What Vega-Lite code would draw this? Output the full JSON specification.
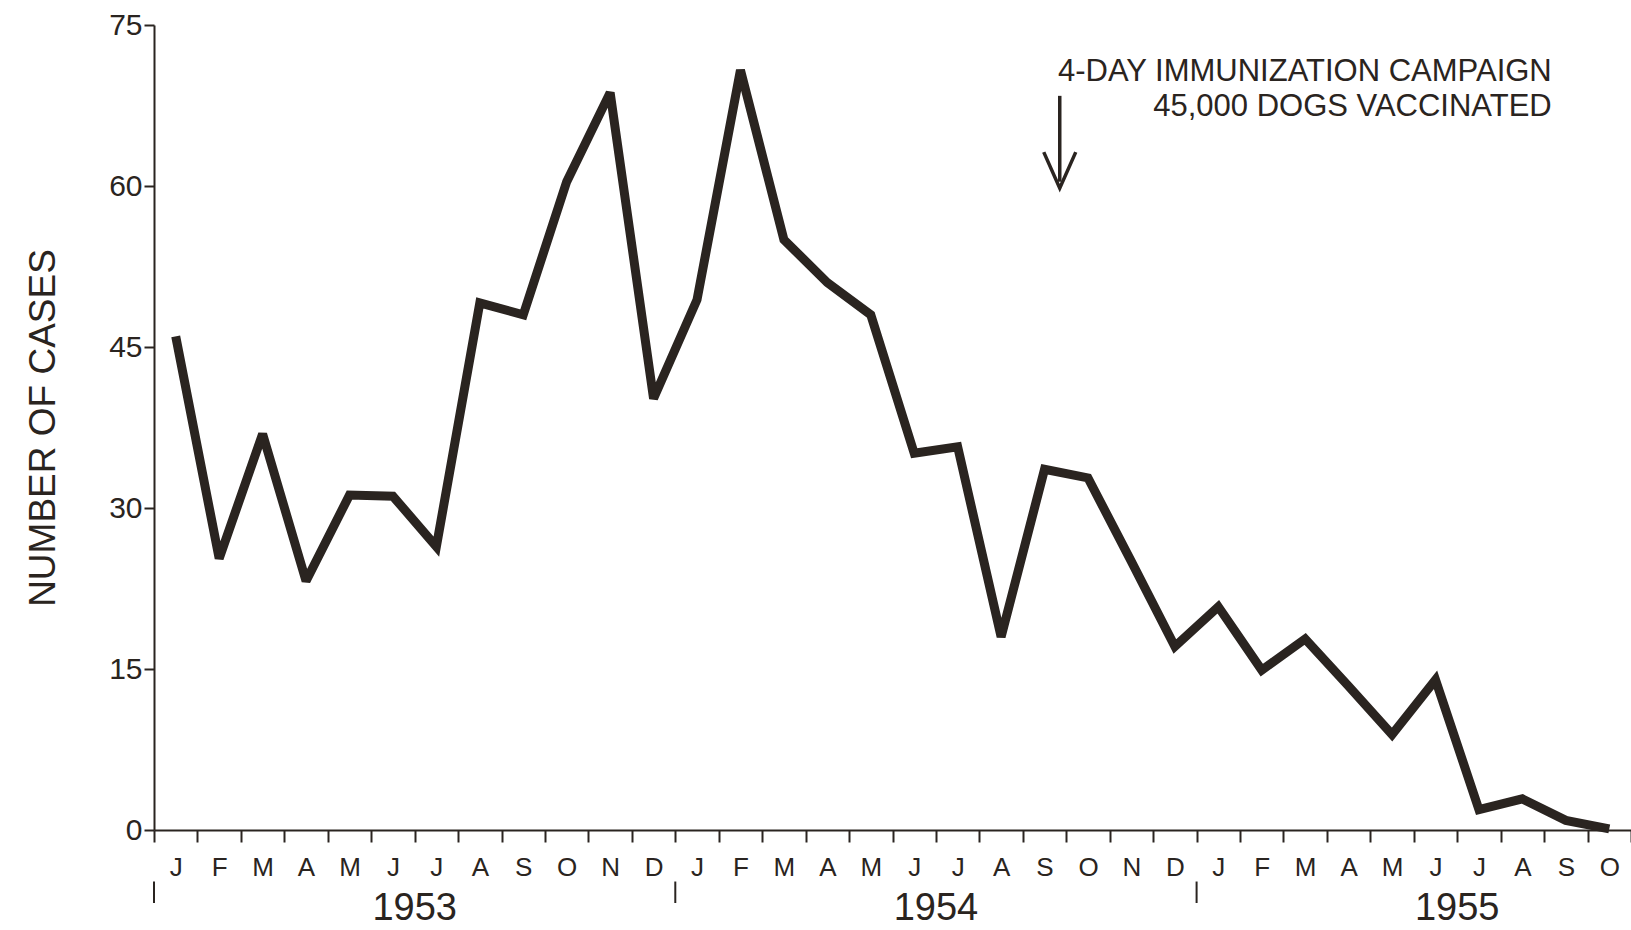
{
  "$schema": "https://vega.github.io/schema/vega-lite/v6.json",
  "width": 1477,
  "height": 805,
  "autosize": "none",
  "padding": {"left": 154, "top": 25, "right": 0, "bottom": 100},
  "background": "white",
  "config": {
    "view": {"stroke": null},
    "font": "Liberation Sans",
    "axis": {"grid": false, "domainColor": "#2a2420", "tickColor": "#2a2420", "labelColor": "#2a2420", "titleColor": "#2a2420", "labelFont": "Liberation Sans", "titleFont": "Liberation Sans"}
  },
  "datasets": {
    "cases": [
      {"month": "1953-01", "cases": 46},
      {"month": "1953-02", "cases": 25.3},
      {"month": "1953-03", "cases": 36.9},
      {"month": "1953-04", "cases": 23.2},
      {"month": "1953-05", "cases": 31.2},
      {"month": "1953-06", "cases": 31.1},
      {"month": "1953-07", "cases": 26.4},
      {"month": "1953-08", "cases": 49.1},
      {"month": "1953-09", "cases": 48},
      {"month": "1953-10", "cases": 60.4},
      {"month": "1953-11", "cases": 68.7},
      {"month": "1953-12", "cases": 40.2},
      {"month": "1954-01", "cases": 49.4},
      {"month": "1954-02", "cases": 70.8},
      {"month": "1954-03", "cases": 55},
      {"month": "1954-04", "cases": 51},
      {"month": "1954-05", "cases": 48},
      {"month": "1954-06", "cases": 35.1},
      {"month": "1954-07", "cases": 35.7},
      {"month": "1954-08", "cases": 18},
      {"month": "1954-09", "cases": 33.6},
      {"month": "1954-10", "cases": 32.8},
      {"month": "1954-11", "cases": 25},
      {"month": "1954-12", "cases": 17.1},
      {"month": "1955-01", "cases": 20.8},
      {"month": "1955-02", "cases": 14.9},
      {"month": "1955-03", "cases": 17.8},
      {"month": "1955-04", "cases": 13.4},
      {"month": "1955-05", "cases": 8.9},
      {"month": "1955-06", "cases": 14},
      {"month": "1955-07", "cases": 1.9},
      {"month": "1955-08", "cases": 2.9},
      {"month": "1955-09", "cases": 0.9},
      {"month": "1955-10", "cases": 0.1}
    ],
    "years": [
      {"month": "1953-07", "year": "1953"},
      {"month": "1954-07", "year": "1954"},
      {"month": "1955-07", "year": "1955"}
    ],
    "yearStarts": [
      {"month": "1953-01"},
      {"month": "1954-01"},
      {"month": "1955-01"}
    ],
    "campaign": [
      {"month": "1954-09", "note": "4-DAY IMMUNIZATION CAMPAIGN\n45,000 DOGS VACCINATED"}
    ]
  },
  "layer": [
    {
      "data": {"name": "cases"},
      "mark": {"type": "line", "color": "#2a2420", "strokeWidth": 9, "strokeJoin": "miter", "strokeMiterLimit": 2.5},
      "encoding": {
        "x": {
          "field": "month", "type": "ordinal", "bandPosition": 0.5,
          "scale": {"type": "band", "paddingInner": 0, "paddingOuter": 0},
          "axis": {
            "title": null, "tickBand": "extent", "labelAngle": 0,
            "labelExpr": "isString(datum.value) ? ['J','F','M','A','M','J','J','A','S','O','N','D'][toNumber(slice(datum.value,5,7))-1] : ''",
            "labelFontSize": 26, "labelPadding": 12, "tickSize": 12, "tickWidth": 2, "domainWidth": 2
          }
        },
        "y": {
          "field": "cases", "type": "quantitative",
          "scale": {"domain": [0, 75], "nice": false},
          "axis": {
            "title": "NUMBER OF CASES", "titleFontSize": 37, "titleFontWeight": "normal", "titlePadding": 46,
            "values": [0, 15, 30, 45, 60, 75], "labelFontSize": 30, "tickSize": 10, "tickWidth": 2, "domainWidth": 2, "labelPadding": 2
          }
        }
      }
    },
    {
      "data": {"name": "yearStarts"},
      "mark": {"type": "rule", "color": "#2a2420", "strokeWidth": 2},
      "encoding": {
        "x": {"field": "month", "type": "ordinal", "bandPosition": 0},
        "y": {"datum": -4.8},
        "y2": {"datum": -6.8}
      }
    },
    {
      "data": {"name": "years"},
      "mark": {"type": "text", "color": "#2a2420", "fontSize": 38, "baseline": "middle", "align": "center"},
      "encoding": {
        "x": {"field": "month", "type": "ordinal", "bandPosition": 0},
        "y": {"datum": -7.4},
        "text": {"field": "year"}
      }
    },
    {
      "data": {"name": "campaign"},
      "mark": {"type": "rule", "color": "#2a2420", "strokeWidth": 3.5},
      "encoding": {
        "x": {"field": "month", "type": "ordinal", "bandPosition": 0.85},
        "y": {"datum": 68.4},
        "y2": {"datum": 60.4}
      }
    },
    {
      "data": {"name": "campaign"},
      "mark": {"type": "point", "shape": "M-1.6,-3.6L0,0L1.6,-3.6", "filled": false, "size": 400, "strokeWidth": 3.5, "color": "#2a2420", "opacity": 1},
      "encoding": {
        "x": {"field": "month", "type": "ordinal", "bandPosition": 0.85},
        "y": {"datum": 59.8}
      }
    },
    {
      "data": {"name": "campaign"},
      "mark": {"type": "text", "color": "#2a2420", "fontSize": 31, "letterSpacing": 1.8, "align": "right", "baseline": "alphabetic", "lineBreak": "\n", "lineHeight": 35, "dx": 492},
      "encoding": {
        "x": {"field": "month", "type": "ordinal", "bandPosition": 0.85},
        "y": {"datum": 69.8},
        "text": {"field": "note"}
      }
    }
  ]
}
